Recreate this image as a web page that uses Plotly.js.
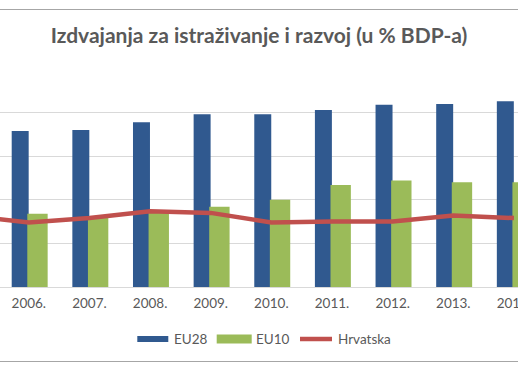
<!DOCTYPE html>
<html>
<head>
<meta charset="utf-8">
<script src="https://cdn.plot.ly/plotly-3.0.1.min.js"></script>
<style>
html,body{margin:0;padding:0;background:#fff;}
#chart{width:518px;height:369px;}
</style>
</head>
<body>
<div id="chart"></div>
<script>
// Data
var years = ['2005.', '2006.', '2007.', '2008.', '2009.', '2010.', '2011.', '2012.', '2013.', '2014.'];
var eu28 = [null, 1.79, 1.80, 1.89, 1.98, 1.98, 2.03, 2.09, 2.10, 2.13];
var eu10 = [null, 0.84, 0.79, 0.87, 0.92, 1.00, 1.17, 1.22, 1.20, 1.20];
var hrvatska = [0.82, 0.74, 0.79, 0.87, 0.85, 0.74, 0.75, 0.75, 0.82, 0.79];
var seriesNames = ['EU28', 'EU10', 'Hrvatska'];
var titleText = 'Izdvajanja za istraživanje i razvoj (u % BDP-a)';

var BLUE = '#30598f', GREEN = '#9bbb59', RED = '#c0504d', TXT = '#595959';
var W = 518, H = 369, MT = 69, MB = 82;
var plotH = H - MT - MB;
function px(x) { return x / W; }
function py(y) { return (H - MB - y) / plotH; }

var traces = [
  {type: 'bar', x: years, y: eu28, name: seriesNames[0], marker: {color: BLUE},
   offset: -0.282, width: 0.28, hoverinfo: 'skip'},
  {type: 'bar', x: years, y: eu10, name: seriesNames[1], marker: {color: GREEN},
   offset: -0.025, width: 0.336, hoverinfo: 'skip'},
  {type: 'scatter', mode: 'lines', x: years, y: hrvatska, name: seriesNames[2],
   line: {color: RED, width: 4.5}, hoverinfo: 'skip'}
];

var legendY = 339;
var shapes = [
  {type: 'line', xref: 'paper', yref: 'paper', x0: 0, x1: 1, y0: py(9.5), y1: py(9.5), line: {color: '#a6a6a6', width: 1}},
  {type: 'line', xref: 'paper', yref: 'paper', x0: 0, x1: 1, y0: py(361.5), y1: py(361.5), line: {color: '#a6a6a6', width: 1}},
  {type: 'rect', xref: 'paper', yref: 'paper', x0: px(137.3), x1: px(168.3), y0: py(336), y1: py(342), fillcolor: BLUE, line: {width: 0}},
  {type: 'rect', xref: 'paper', yref: 'paper', x0: px(216.7), x1: px(251.7), y0: py(334.5), y1: py(343.5), fillcolor: GREEN, line: {width: 0}},
  {type: 'line', xref: 'paper', yref: 'paper', x0: px(300), x1: px(332), y0: py(legendY), y1: py(legendY), line: {color: RED, width: 4.5}}
];
var legendX = [171.5, 254, 335.5];
var annotations = seriesNames.map(function (n, i) {
  return {xref: 'paper', yref: 'paper', x: px(legendX[i]), y: py(legendY), xanchor: 'left', yanchor: 'middle',
          text: n, showarrow: false, font: {family: 'Lato', size: 13.5, color: TXT}};
});

var layout = {
  width: W, height: H,
  margin: {l: 0, r: 0, t: MT, b: MB, pad: 0},
  paper_bgcolor: '#fff', plot_bgcolor: '#fff',
  barmode: 'overlay',
  showlegend: false,
  title: {text: titleText, x: 259 / W, xanchor: 'center', xref: 'container',
          y: 1 - 36 / H, yanchor: 'middle', yref: 'container',
          font: {family: 'Lato', size: 21, color: TXT, weight: 'bold'}},
  xaxis: {type: 'category', range: [0.525, 9.067], showgrid: false, zeroline: false, showline: false,
          ticks: '', ticklabelstandoff: 6, tickfont: {family: 'Lato', size: 13.5, color: TXT}, fixedrange: true},
  yaxis: {range: [0, 2.5], dtick: 0.5, tick0: 0, showticklabels: false, showgrid: true, gridcolor: '#d9d9d9',
          gridwidth: 1, zeroline: true, zerolinecolor: '#d9d9d9', zerolinewidth: 1, fixedrange: true},
  shapes: shapes,
  annotations: annotations
};

Plotly.newPlot('chart', traces, layout, {displayModeBar: false, staticPlot: true});
</script>
</body>
</html>
